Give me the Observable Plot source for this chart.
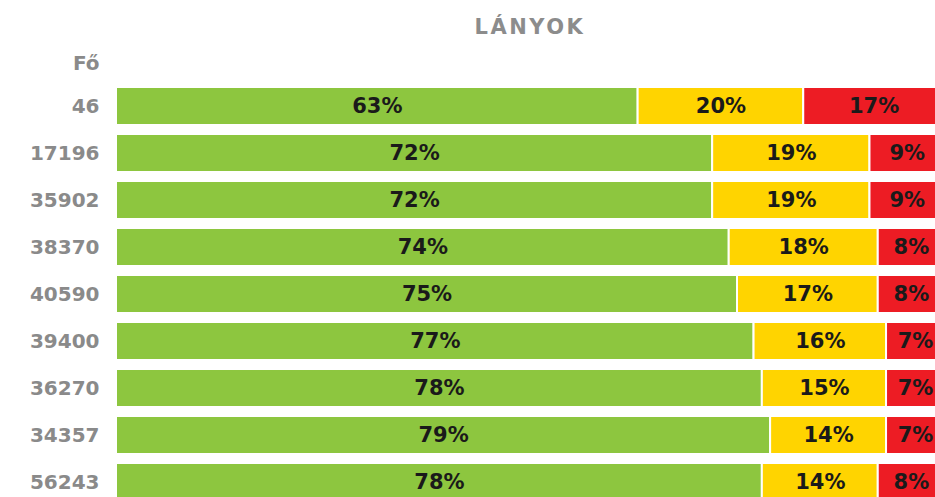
<!DOCTYPE html>
<html>
<head>
<meta charset="utf-8">
<script src="https://cdn.jsdelivr.net/npm/d3@7"></script>
<script src="https://cdn.jsdelivr.net/npm/@observablehq/plot@0.6"></script>
<style>
  html, body { margin: 0; padding: 0; background: #fff; overflow: hidden; }
  #wrap { position: relative; width: 935px; height: 497px; }
  #title { position: relative; height: 40px; }
  #title span { position: absolute; left: 530px; top: 15px; transform: translateX(-50%);
    font-family: "DejaVu Sans", sans-serif; font-weight: bold; font-size: 21px; letter-spacing: 2.5px;
    color: #8c8c8c; line-height: 24px; white-space: nowrap; }
</style>
</head>
<body>
<div id="wrap">
  <div id="title"><span>LÁNYOK</span></div>
  <div id="chart"></div>
</div>
<script>
const headerLabel = "Fő";
const groups = ["46", "17196", "35902", "38370", "40590", "39400", "36270", "34357", "56243"];
const green  = [63, 72, 72, 74, 75, 77, 78, 79, 78];
const yellow = [20, 19, 19, 18, 17, 16, 15, 14, 14];
const red    = [17,  9,  9,  8,  8,  7,  7,  7,  8];
const categories = ["zöld", "sárga", "piros"];
const colors = ["#8dc63f", "#ffd400", "#ed1c24"];

const table = [];
groups.forEach((g, i) => {
  table.push({group: g, cat: categories[0], value: green[i]});
  table.push({group: g, cat: categories[1], value: yellow[i]});
  table.push({group: g, cat: categories[2], value: red[i]});
});

const chart = Plot.plot({
  width: 935,
  height: 457,
  marginLeft: 116,
  marginRight: 0,
  marginTop: 0,
  marginBottom: 0,
  style: {fontFamily: "DejaVu Sans, sans-serif", fontWeight: "bold", color: "#8a8a8a", background: "#fff"},
  x: {domain: [0, 100], range: [116, 944], axis: null},
  y: {domain: [headerLabel, ...groups], range: [-1, 461], paddingInner: 0.2, paddingOuter: 0, label: null},
  color: {domain: categories, range: colors},
  marks: [
    Plot.barX(table, Plot.stackX({x: "value", y: "group", fill: "cat", stroke: "white", strokeWidth: 2, clip: "frame"})),
    Plot.text(table, Plot.stackX({x: "value", y: "group", text: d => d.value + "%", fill: "#1a1a1a",
      fontSize: 21, fontWeight: "bold", letterSpacing: "1px", clip: "frame"})),
    Plot.axisY({ticks: groups, tickSize: 0, tickPadding: 17, fontSize: 20, letterSpacing: "0.5px", label: null}),
    Plot.text([headerLabel], {y: d => d, text: d => d, frameAnchor: "left", textAnchor: "end", dx: -17, dy: 4, fontSize: 20, fill: "currentColor"})
  ]
});
document.getElementById("chart").appendChild(chart);
</script>
</body>
</html>
